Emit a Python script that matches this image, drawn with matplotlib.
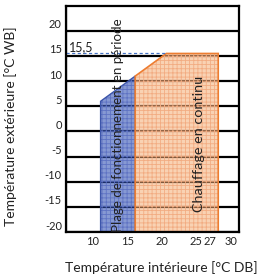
import matplotlib
matplotlib.use("Agg")
import matplotlib.pyplot as plt
import matplotlib.transforms as mtransforms

plt.rcParams['font.family'] = ['Lato', 'DejaVu Sans']
plt.rcParams['hatch.linewidth'] = 0.6

# ---- data ----
x_tick_values = [10, 15, 20, 25, 27, 30]
x_tick_labels = ["10", "15", "20", "25", "27", "30"]
x_grid_values = [5, 10, 15, 20, 25, 30]
y_tick_values = [-20, -15, -10, -5, 0, 5, 10, 15, 20]
y_tick_labels = ["-20", "-15", "-10", "-5", "0", "5", "10", "15", "20"]

blue_x = [10, 10, 15, 15]
blue_y = [-20, 6, 11, -20]
orange_x = [15, 15, 19.5, 27, 27]
orange_y = [-20, 11, 15.5, 15.5, -20]

limit_value = 15.5
limit_label = "15,5"
limit_x = [5, 19.5]

blue_text = "Plage de fonctionnement en période"
orange_text = "Chauffage en continu"
xlabel = "Température intérieure [°C DB]"
ylabel = "Température extérieure [°C WB]"

# ---- figure ----
W, H = 262, 277
fig = plt.figure(figsize=(W / 100, H / 100), dpi=100)
ax = fig.add_axes([66 / W, 1 - 232 / H, (239 - 66) / W, (232 - 5.7) / H])
ax.set_xlim(5, 30)
ax.set_ylim(-20, 25)

# grid
ax.set_axisbelow(True)
ax.set_xticks(x_grid_values, minor=True)
ax.set_xticks(x_tick_values)
ax.set_xticklabels(x_tick_labels)
ax.set_yticks(y_tick_values)
ax.set_yticklabels(y_tick_labels)
ax.xaxis.grid(True, which='minor', color='black', lw=1.6)
ax.xaxis.grid(False, which='major')
ax.yaxis.grid(True, which='major', color='black', lw=1.6)
ax.tick_params(axis='both', which='both', length=0, labelsize=8, colors='#222222')
ax.tick_params(axis='x', pad=3)
ax.tick_params(axis='y', pad=3)
for s in ax.spines.values():
    s.set_linewidth(1.6)
    s.set_color('black')

# shift tick labels like in reference
dx = mtransforms.ScaledTranslation(-8 / 100, 0, fig.dpi_scale_trans)
for lbl in ax.get_xticklabels():
    lbl.set_transform(lbl.get_transform() + dx)
dy = mtransforms.ScaledTranslation(0, 7 / 100, fig.dpi_scale_trans)
for lbl in ax.get_yticklabels():
    lbl.set_transform(lbl.get_transform() + dy)

# regions
ax.fill(blue_x, blue_y, facecolor=(47 / 255, 80 / 255, 180 / 255), alpha=0.58, lw=0, zorder=1)
ax.fill(blue_x, blue_y, facecolor='none', edgecolor=(95 / 255, 115 / 255, 195 / 255), hatch='++++', lw=0, zorder=1.1)
ax.fill(blue_x, blue_y, facecolor='none', edgecolor=(60 / 255, 85 / 255, 170 / 255), lw=1.0, zorder=2)

ax.fill(orange_x, orange_y, facecolor=(245 / 255, 170 / 255, 113 / 255), alpha=0.53, lw=0, zorder=1)
ax.fill(orange_x, orange_y, facecolor='none', edgecolor=(242 / 255, 172 / 255, 130 / 255), hatch='++++', lw=0, zorder=1.1)
ax.fill(orange_x, orange_y, facecolor='none', edgecolor=(237 / 255, 125 / 255, 49 / 255), lw=1.2, zorder=2)

# limit line
ax.plot(limit_x, [limit_value, limit_value], color='#4472C4', lw=0.9, ls=(0, (2.5, 2)), zorder=2.5)
ax.text(5.4, limit_value + 0.1, limit_label, fontsize=9, color='#222222', ha='left', va='bottom', zorder=3)

# inner texts
ax.text(12.45, 1.3, blue_text, rotation=90, fontsize=9.6, color='#222222', ha='center', va='center', zorder=3)
ax.text(24.2, -2.5, orange_text, rotation=90, fontsize=10.4, color='#222222', ha='center', va='center', zorder=3)

# axis labels
ax.set_xlabel(xlabel, fontsize=10, color='#222222')
ax.xaxis.set_label_coords((161 - 66) / 173, (232 - 268) / 226.3)
ax.xaxis.label.set_va('center')
ax.set_ylabel(ylabel, fontsize=10, color='#222222')
ax.yaxis.set_label_coords((11 - 66) / 173, (232 - 126) / 226.3)
ax.yaxis.label.set_va('center')

fig.savefig("out.png", dpi=100)
